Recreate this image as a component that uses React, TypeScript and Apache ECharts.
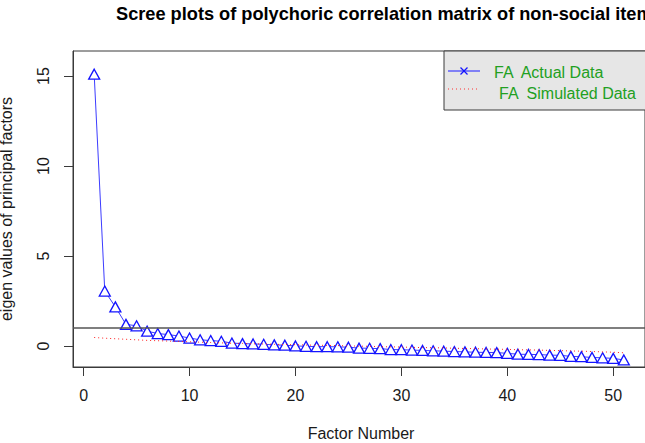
import React, { useEffect, useRef } from 'react';
import * as echarts from 'echarts';

const factorNumbers = [
  1, 2, 3, 4, 5, 6, 7, 8, 9, 10, 11, 12, 13, 14, 15, 16, 17, 18, 19, 20,
  21, 22, 23, 24, 25, 26, 27, 28, 29, 30, 31, 32, 33, 34, 35, 36, 37, 38, 39, 40,
  41, 42, 43, 44, 45, 46, 47, 48, 49, 50, 51,
];

const actualEigen = [
  15.1, 3.05, 2.17, 1.2, 1.12, 0.82, 0.69, 0.63, 0.55, 0.44,
  0.34, 0.3, 0.26, 0.16, 0.13, 0.11, 0.09, 0.06, 0.04, 0.0,
  -0.02, -0.04, -0.04, -0.05, -0.07, -0.12, -0.13, -0.15, -0.2, -0.21,
  -0.23, -0.25, -0.27, -0.29, -0.31, -0.33, -0.35, -0.36, -0.37, -0.41,
  -0.46, -0.47, -0.48, -0.51, -0.52, -0.58, -0.6, -0.64, -0.66, -0.69,
  -0.78,
];

const simulatedEigen = [
  0.47, 0.43, 0.4, 0.37, 0.34, 0.31, 0.29, 0.27, 0.25, 0.23,
  0.21, 0.19, 0.17, 0.15, 0.14, 0.12, 0.11, 0.09, 0.08, 0.07,
  0.05, 0.04, 0.03, 0.02, 0.0, -0.01, -0.02, -0.04, -0.05, -0.06,
  -0.08, -0.09, -0.1, -0.11, -0.13, -0.14, -0.15, -0.17, -0.18, -0.19,
  -0.21, -0.22, -0.23, -0.25, -0.26, -0.28, -0.29, -0.31, -0.33, -0.35,
  -0.38,
];

const xTicks = [0, 10, 20, 30, 40, 50];
const yTicks = [0, 5, 10, 15];
const referenceLine = 1;

const titleText = 'Scree plots of polychoric correlation matrix of non-social items';
const xTitle = 'Factor Number';
const yTitle = 'eigen values of principal factors';
const legendNames = ['FA  Actual Data', 'FA  Simulated Data'];

const FONT = '"Liberation Sans", Arial, sans-serif';

export default function App() {
  const ref = useRef<HTMLDivElement>(null);

  useEffect(() => {
    if (!ref.current) return;
    const chart = echarts.init(ref.current, undefined, { renderer: 'svg' });

    const actual = factorNumbers.map((f, i) => [f, actualEigen[i]]);
    const simulated = factorNumbers.map((f, i) => [f, simulatedEigen[i]]);

    chart.setOption({
      animation: false,
      backgroundColor: '#ffffff',
      grid: {
        left: 73,
        right: -4,
        top: 51,
        bottom: 76,
        show: true,
        borderColor: '#3a3a3a',
        borderWidth: 1,
        backgroundColor: 'transparent',
      },
      xAxis: {
        type: 'value',
        min: -1,
        max: 53,
        splitLine: { show: false },
        axisLine: { show: true, onZero: false, lineStyle: { color: '#3a3a3a', width: 1 } },
        axisTick: {
          show: true,
          length: 9,
          customValues: xTicks,
          lineStyle: { color: '#3a3a3a', width: 1 },
        },
        axisLabel: {
          customValues: xTicks,
          margin: 20,
          color: '#1a1a1a',
          fontSize: 16,
          fontFamily: FONT,
        },
      },
      yAxis: {
        type: 'value',
        min: -1.17,
        max: 16.39,
        splitLine: { show: false },
        axisLine: { show: true, onZero: false, lineStyle: { color: '#3a3a3a', width: 1 } },
        axisTick: {
          show: true,
          length: 9,
          customValues: yTicks,
          lineStyle: { color: '#3a3a3a', width: 1 },
        },
        axisLabel: {
          customValues: yTicks,
          rotate: 90,
          margin: 22,
          color: '#1a1a1a',
          fontSize: 16,
          fontFamily: FONT,
        },
      },
      series: [
        {
          name: legendNames[0],
          type: 'line',
          data: actual,
          z: 2,
          symbol: 'triangle',
          symbolSize: [11, 10],
          showAllSymbol: true,
          lineStyle: { color: '#3c3cff', width: 1 },
          itemStyle: { color: '#ffffff', borderColor: '#1414ff', borderWidth: 1.3 },
        },
        {
          name: legendNames[1],
          type: 'line',
          data: simulated,
          z: 4,
          symbol: 'none',
          lineStyle: { color: '#ff2020', width: 1, type: [1, 3] },
          markLine: {
            silent: true,
            symbol: 'none',
            label: { show: false },
            lineStyle: { color: '#555555', width: 1.5, type: 'solid' },
            data: [{ yAxis: referenceLine }],
          },
        },
      ],
      graphic: [
        {
          type: 'text',
          left: 116,
          top: 5,
          style: {
            text: titleText,
            fill: '#000000',
            font: `bold 18.2px ${FONT}`,
          },
        },
        {
          type: 'text',
          x: 361,
          y: 433,
          style: {
            text: xTitle,
            fill: '#1a1a1a',
            font: `16px ${FONT}`,
            align: 'center',
            verticalAlign: 'middle',
          },
        },
        {
          type: 'text',
          x: 6,
          y: 209,
          rotation: Math.PI / 2,
          style: {
            text: yTitle,
            fill: '#1a1a1a',
            font: `16px ${FONT}`,
            align: 'center',
            verticalAlign: 'middle',
          },
        },
        {
          type: 'rect',
          shape: { x: 444, y: 51, width: 220, height: 59 },
          style: { fill: '#e6e6e6', stroke: '#3a3a3a', lineWidth: 1 },
          z: 10,
        },
        {
          type: 'line',
          shape: { x1: 448, y1: 71, x2: 480, y2: 71 },
          style: { stroke: '#3c3cff', lineWidth: 1.2 },
          z: 11,
        },
        {
          type: 'line',
          shape: { x1: 460.5, y1: 67.5, x2: 467.5, y2: 74.5 },
          style: { stroke: '#1414ff', lineWidth: 1.3 },
          z: 11,
        },
        {
          type: 'line',
          shape: { x1: 460.5, y1: 74.5, x2: 467.5, y2: 67.5 },
          style: { stroke: '#1414ff', lineWidth: 1.3 },
          z: 11,
        },
        {
          type: 'line',
          shape: { x1: 448, y1: 89, x2: 480, y2: 89 },
          style: { stroke: '#ff3030', lineWidth: 1, lineDash: [1, 3] },
          z: 11,
        },
        {
          type: 'text',
          x: 494,
          y: 72,
          style: {
            text: legendNames[0],
            fill: '#22a022',
            font: `16px ${FONT}`,
            align: 'left',
            verticalAlign: 'middle',
          },
          z: 11,
        },
        {
          type: 'text',
          x: 499,
          y: 93,
          style: {
            text: legendNames[1],
            fill: '#22a022',
            font: `16px ${FONT}`,
            align: 'left',
            verticalAlign: 'middle',
          },
          z: 11,
        },
      ],
    });

    return () => {
      chart.dispose();
    };
  }, []);

  return (
    <div
      ref={ref}
      style={{ position: 'fixed', left: 0, top: 0, width: 645, height: 443, background: '#fff' }}
    />
  );
}
